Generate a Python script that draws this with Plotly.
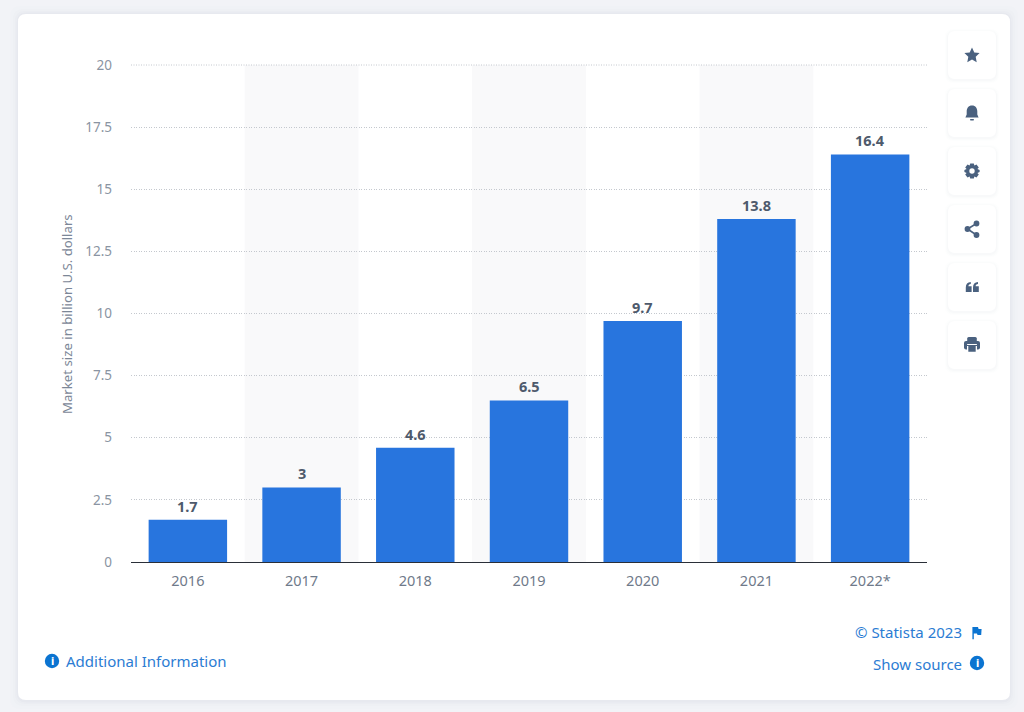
import re
import plotly.graph_objects as go

W, H = 1024, 712

# data
years = ["2016", "2017", "2018", "2019", "2020", "2021", "2022*"]
market_size = [1.7, 3, 4.6, 6.5, 9.7, 13.8, 16.4]
value_labels = ["1.7", "3", "4.6", "6.5", "9.7", "13.8", "16.4"]
y_ticks = [0, 2.5, 5, 7.5, 10, 12.5, 15, 17.5, 20]
y_tick_labels = ["0", "2.5", "5", "7.5", "10", "12.5", "15", "17.5", "20"]

BLUE = "#2875de"
LINK = "#2b7cd3"
ICON = "#4a617f"
FONT = "Noto Sans"
GRID = "#c4c8ce"
GRID_DASH = "1px,1.5px"


# pixels -> paper coordinates, so the page furniture can be placed like on the screenshot
def px(x):
    return x / W


def py(y):
    return 1 - y / H


def to_paper(path, cx=0, cy=0):
    def repl(m):
        return f"{px(float(m.group(1)) + cx):.5f},{py(float(m.group(2)) + cy):.5f}"
    return re.sub(r"(-?[\d.]+),(-?[\d.]+)", repl, path)


def round_rect(x0, y0, x1, y1, r):
    return (f"M{x0+r},{y0} L{x1-r},{y0} Q{x1},{y0} {x1},{y0+r} L{x1},{y1-r} Q{x1},{y1} {x1-r},{y1} "
            f"L{x0+r},{y1} Q{x0},{y1} {x0},{y1-r} L{x0},{y0+r} Q{x0},{y0} {x0+r},{y0} Z")


def path_shape(path, color, cx=0, cy=0, layer="above", **kw):
    return dict(type="path", xref="paper", yref="paper", path=to_paper(path, cx, cy),
                fillcolor=color, line=dict(width=0), layer=layer, **kw)


def circle(cx, cy, r, color):
    return dict(type="circle", xref="paper", yref="paper", x0=px(cx - r), x1=px(cx + r),
                y0=py(cy + r), y1=py(cy - r), fillcolor=color, line=dict(width=0), layer="above")


shapes = []

# card with soft shadow
for grow, alpha in [(8, 0.008), (5, 0.012), (3, 0.015), (1.5, 0.02)]:
    shapes.append(path_shape(round_rect(18 - grow, 14 - grow, 1010 + grow, 700 + grow + 1, 10),
                             f"rgba(60,70,100,{alpha})", layer="below"))
shapes.append(path_shape(round_rect(18, 14, 1010, 700, 8), "white", layer="below"))

# alternating column bands
for i in [1, 3, 5]:
    shapes.append(dict(type="rect", xref="x", yref="y", x0=i - 0.5, x1=i + 0.5, y0=0, y1=y_ticks[-1],
                       fillcolor="#f9f9fa", line=dict(width=0), layer="below"))

# plotly skips the gridline on the top edge of the range; paper ref so it is not clipped
shapes.append(dict(type="line", xref="x", yref="paper", x0=-0.5, x1=6.5, y0=py(65), y1=py(65),
                   line=dict(color=GRID, width=1, dash=GRID_DASH), layer="above"))

# toolbar buttons
button_tops = [31, 89, 147, 205, 263, 321]
for top in button_tops:
    for grow, alpha in [(3, 0.008), (2, 0.01), (1, 0.015)]:
        shapes.append(path_shape(round_rect(948 - grow, top - grow + 1, 996 + grow, top + 48 + grow + 1, 8),
                                 f"rgba(60,70,100,{alpha})", layer="below"))
    shapes.append(path_shape(round_rect(948, top, 996, top + 48, 7), "white", layer="below"))

# toolbar icons, drawn around each button centre
star = "M0,-7.5 L2.3,-2.5 L7.6,-1.9 L3.7,1.8 L4.7,7.2 L0,4.5 L-4.7,7.2 L-3.7,1.8 L-7.6,-1.9 L-2.3,-2.5 Z"
shapes.append(path_shape(star, ICON, 972, 55))

bell = "M0,-7.5 C3.6,-7.5 5.3,-4.8 5.3,-1.5 L5.3,1.5 L6.6,4.6 L-6.6,4.6 L-5.3,1.5 L-5.3,-1.5 C-5.3,-4.8 -3.6,-7.5 0,-7.5 Z"
shapes.append(path_shape(bell, ICON, 972, 113))
shapes.append(path_shape(round_rect(-2, 6, 2, 7.5, 0.7), ICON, 972, 113))

gear = ("M-1.8,-7.6 L1.8,-7.6 L2.4,-5.5 L4.5,-6.4 L6.8,-3.5 L5.4,-1.9 L7.6,-1 L7.6,1 L5.4,1.9 L6.8,3.5 "
        "L4.5,6.4 L2.4,5.5 L1.8,7.6 L-1.8,7.6 L-2.4,5.5 L-4.5,6.4 L-6.8,3.5 L-5.4,1.9 L-7.6,1 L-7.6,-1 "
        "L-5.4,-1.9 L-6.8,-3.5 L-4.5,-6.4 L-2.4,-5.5 Z")
shapes.append(path_shape(gear, ICON, 972, 171))
shapes.append(circle(972, 171, 2.7, "white"))

share_nodes = [(976.5, 223.5), (967.5, 229), (976.5, 235)]
shapes.append(dict(type="path", xref="paper", yref="paper", layer="above", line=dict(color=ICON, width=1.6),
                   path=to_paper(f"M{share_nodes[0][0]},{share_nodes[0][1]} L{share_nodes[1][0]},{share_nodes[1][1]} "
                                 f"L{share_nodes[2][0]},{share_nodes[2][1]}")))
for nx, ny in share_nodes:
    shapes.append(circle(nx, ny, 2.9, ICON))

quote = "M-6.2,0.5 C-6.2,-3 -4.5,-4.8 -1.2,-5 L-1.2,-3 C-2.8,-2.8 -3.6,-2 -3.6,-0.8 L-0.4,-0.8 L-0.4,5 L-6.2,5 Z"
shapes.append(path_shape(quote, ICON, 972, 287))
shapes.append(path_shape(quote, ICON, 979.2, 287))

shapes.append(path_shape(round_rect(-4.8, -8, 4.8, -2, 1.5), ICON, 972, 345))
shapes.append(path_shape(round_rect(-8, -4, 8, 4.5, 2), ICON, 972, 345))
shapes.append(path_shape(round_rect(-5, -1, 5, 8, 0.5), "white", 972, 345))
shapes.append(path_shape(round_rect(-3.7, 0.3, 3.7, 6.8, 0.3), ICON, 972, 345))
shapes.append(path_shape(round_rect(-5, 0, 5, 1, 0), ICON, 972, 345))

# footer icons
shapes.append(circle(52, 661, 7.2, "#0b74d1"))
shapes.append(circle(977, 663, 7.2, "#0b74d1"))
flag = "M-4.6,-6 L-3.2,-6 L-3.2,6.2 L-4.6,6.2 Z M-3.2,-6 L1,-6 L1.6,-4 L4.6,-4 L4.2,2 L0.5,2 L0,0.4 L-3.2,0.4 Z"
shapes.append(path_shape(flag, "#0b74d1", 977, 633))


def note(text, x, y, size, color, anchor="left", weight=None):
    font = dict(family=FONT, size=size, color=color)
    if weight:
        font["weight"] = weight
    return dict(text=text, xref="paper", yref="paper", x=px(x), y=py(y), xanchor=anchor,
                yanchor="middle", showarrow=False, font=font)


annotations = [
    note("Market size in billion U.S. dollars", 0, 0, 13.2, "#7c8797"),
    note("Additional Information", 64, 660.5, 15, LINK),
    note("© Statista 2023", 964, 632, 15, LINK, "right"),
    note("Show source", 964, 663.5, 15, LINK, "right"),
    note("i", 52, 661, 10.5, "white", "center", 800),
    note("i", 977, 663, 10.5, "white", "center", 800),
]
annotations[0].update(x=px(67), y=py(314), xanchor="center", textangle=-90)

# value labels sit a little higher than the bar text position allows
for i, label in enumerate(value_labels):
    annotations.append(dict(text=label, xref="x", yref="y", x=i, y=market_size[i], yanchor="bottom",
                            yshift=2, showarrow=False,
                            font=dict(family=FONT, size=14.5, color="#4e5a6c", weight=700)))

fig = go.Figure(go.Bar(
    x=list(range(len(years))),
    y=market_size,
    marker=dict(color=BLUE, line=dict(width=0)),
    hoverinfo="skip",
))

fig.update_layout(
    width=W,
    height=H,
    margin=dict(l=0, r=0, t=0, b=0),
    paper_bgcolor="#f2f3f7",
    plot_bgcolor="rgba(0,0,0,0)",
    bargap=0.31,
    showlegend=False,
    shapes=shapes,
    annotations=annotations,
    font=dict(family=FONT),
    xaxis=dict(
        domain=[px(131), px(927)],
        range=[-0.5, 6.5],
        automargin=False,
        tickmode="array",
        tickvals=list(range(len(years))),
        ticktext=years,
        tickfont=dict(size=14.5, color="#6f7a8a"),
        ticklabelstandoff=6,
        showgrid=False,
        zeroline=False,
        showline=True,
        linecolor="#2a2f38",
        linewidth=1,
        ticks="",
    ),
    yaxis=dict(
        domain=[py(562), py(65)],
        range=[0, y_ticks[-1]],
        automargin=False,
        tickmode="array",
        tickvals=y_ticks,
        ticktext=y_tick_labels,
        tickfont=dict(size=13.5, color="#8a94a2"),
        ticklabelstandoff=18,
        showgrid=True,
        gridcolor=GRID,
        griddash=GRID_DASH,
        gridwidth=1,
        zeroline=False,
        ticks="",
    ),
)

fig.write_html("out.html", config=dict(displayModeBar=False),
               post_script="document.body.style.margin='0';document.body.style.overflow='hidden';")
